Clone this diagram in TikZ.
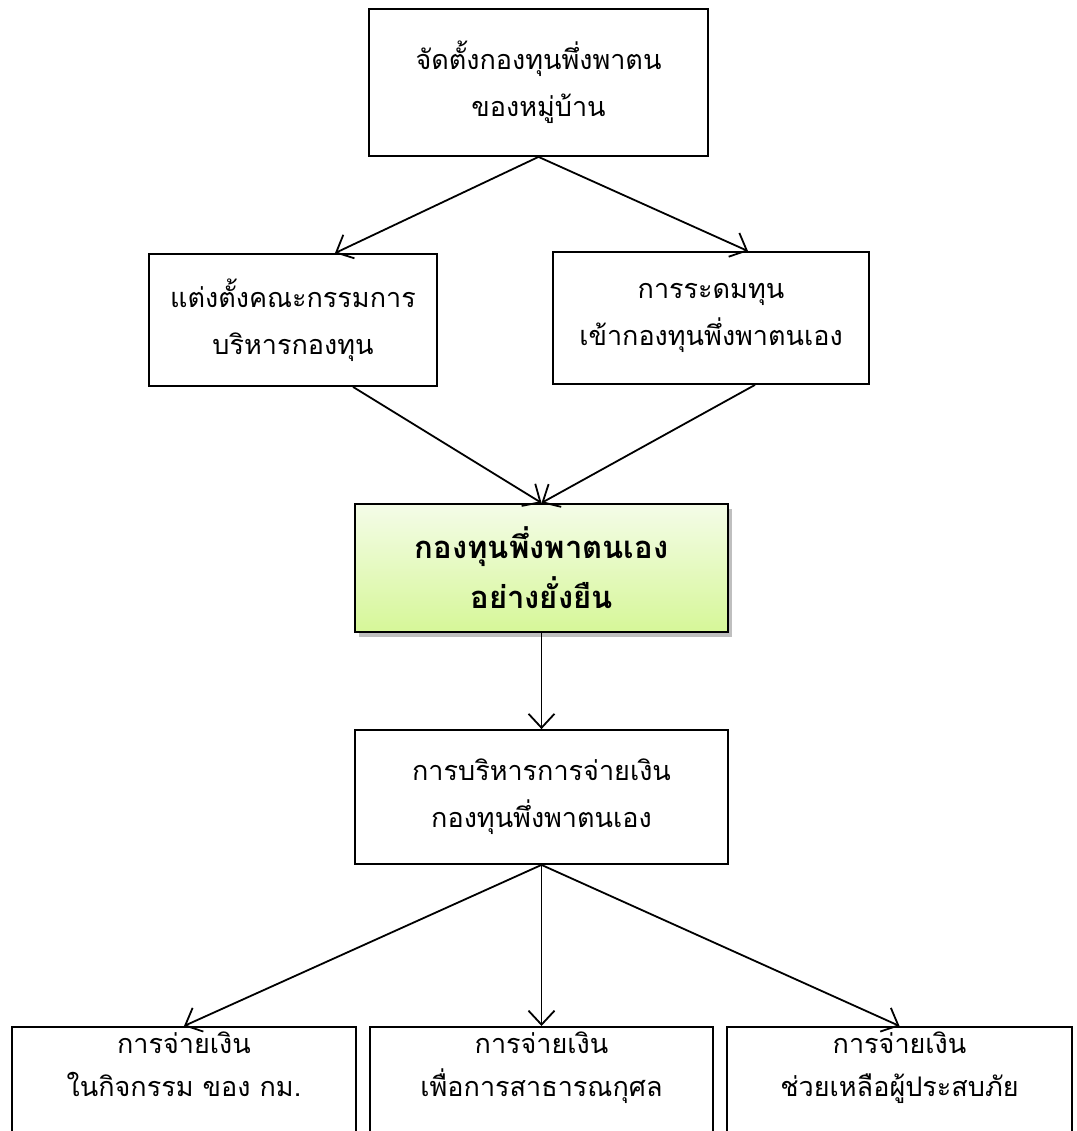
\documentclass[tikz,border=0pt]{standalone}
\usepackage{fontspec}
\newfontfamily\thaifont[Script=Thai]{Loma}
\usetikzlibrary{positioning,arrows.meta,shadows,calc}
\tikzstyle{stage} = [rectangle,
                    draw=black,
                    line width=1.8pt,
                    text centered,
                    align=center,
                    font=\thaifont\fontsize{27}{47}\selectfont]
\tikzstyle{fundbox} = [stage,
                    line width=2.2pt,
                    top color={rgb,255:red,244;green,252;blue,232},
                    bottom color={rgb,255:red,214;green,247;blue,152},
                    drop shadow={shadow xshift=4pt,shadow yshift=-5pt,fill=black,opacity=0.25},
                    font=\thaifont\bfseries\fontsize{31}{50}\selectfont]
\tikzstyle{payout} = [stage,
                    anchor=north,
                    minimum height=160pt]
\tikzstyle{paytext} = [align=center,
                    font=\thaifont\fontsize{27}{43}\selectfont]
\tikzstyle{flow} = [-{Straight Barb[length=14pt,width=26pt]},
                    line width=1.8pt]

\begin{document}
\begin{tikzpicture}[x=1pt,y=-1pt]
\useasboundingbox (0,0) rectangle (1076,1131);
\clip (0,0) rectangle (1076,1131);
\node (setup) [stage, minimum width=339pt, minimum height=147pt] at (538.5,82.5) {จัดตั้งกองทุนพึ่งพาตน\\ของหมู่บ้าน};
\node (board) [stage, minimum width=288pt, minimum height=132pt] at (293,320) {แต่งตั้งคณะกรรมการ\\บริหารกองทุน};
\node (raise) [stage, minimum width=316pt, minimum height=132pt] at (711,318) {การระดมทุน\\เข้ากองทุนพึ่งพาตนเอง};
\node (fund) [fundbox, minimum width=373pt, minimum height=128pt] at (541.5,568) {กองทุนพึ่งพาตนเอง\\อย่างยั่งยืน};
\node (manage) [stage, minimum width=373pt, minimum height=134pt] at (541.5,797) {การบริหารการจ่ายเงิน\\กองทุนพึ่งพาตนเอง};
\node (pay1) [payout, minimum width=344pt] at (184,1026) {};
\node (pay2) [payout, minimum width=343pt] at (541.5,1026) {};
\node (pay3) [payout, minimum width=345pt] at (899.5,1026) {};
\node (pay1txt) [paytext, below=2pt of pay1.north] {การจ่ายเงิน\\ในกิจกรรม ของ กม.};
\node (pay2txt) [paytext, below=2pt of pay2.north] {การจ่ายเงิน\\เพื่อการสาธารณกุศล};
\node (pay3txt) [paytext, below=2pt of pay3.north] {การจ่ายเงิน\\ช่วยเหลือผู้ประสบภัย};
% connectors
\draw [flow] (setup.south) -- ($(board.north)+(42,0)$);
\draw [flow] (setup.south) -- ($(raise.north)+(37,0)$);
\draw [flow] ($(board.south)+(60,0)$) -- (fund.north);
\draw [flow] ($(raise.south)+(44,0)$) -- (fund.north);
\draw [flow] (fund.south) -- (manage.north);
\draw [flow] (manage.south) -- (pay1.north);
\draw [flow] (manage.south) -- (pay2.north);
\draw [flow] (manage.south) -- (pay3.north);
\end{tikzpicture}
\end{document}
